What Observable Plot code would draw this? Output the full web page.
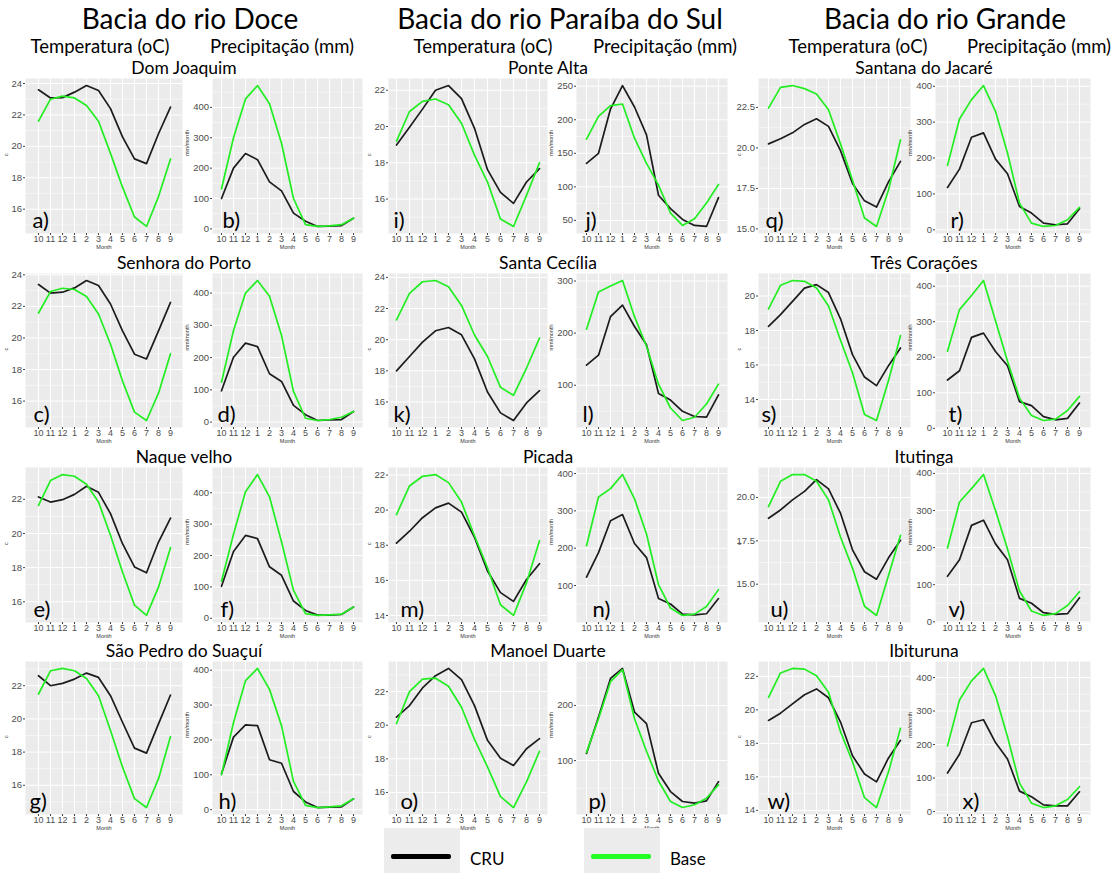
<!DOCTYPE html>
<html><head><meta charset="utf-8">
<script src="https://cdn.jsdelivr.net/npm/d3@7"></script>
<script src="https://cdn.jsdelivr.net/npm/@observablehq/plot@0.6"></script>
<style>
body{margin:0;background:#fff;}
#root{position:relative;width:1116px;height:873px;overflow:hidden;background:#fff;}
.t{position:absolute;white-space:nowrap;color:#000;font-family:Lato,"Open Sans",sans-serif;line-height:1;}
.panel{position:absolute;}
.panel svg{overflow:visible;background:transparent;}
.lbox{position:absolute;background:#ececec;}
.lline{position:absolute;height:5px;border-radius:2px;}
</style></head><body><div id="root"></div>
<script>
// ---------- categories / labels ----------
const months = ["10","11","12","1","2","3","4","5","6","7","8","9"];
const basins = ["Bacia do rio Doce","Bacia do rio Paraíba do Sul","Bacia do rio Grande"];
const subTemp = "Temperatura (oC)";
const subPrec = "Precipitação (mm)";
const stationsDoce = ["Dom Joaquim","Senhora do Porto","Naque velho","São Pedro do Suaçuí"];
const stationsParaiba = ["Ponte Alta","Santa Cecília","Picada","Manoel Duarte"];
const stationsGrande = ["Santana do Jacaré","Três Corações","Itutinga","Ibituruna"];
const panelLetters = ["a)","b)","c)","d)","e)","f)","g)","h)","i)","j)","k)","l)","m)","n)","o)","p)","q)","r)","s)","t)","u)","v)","w)","x)"];
const seriesNames = ["CRU","Base"];

// ---------- series values (month order 10..9) ----------
// Dom Joaquim
const tDomJoaquimCRU  = [23.6,23.08,23.1,23.45,23.87,23.55,22.4,20.6,19.2,18.9,20.8,22.5];
const tDomJoaquimBase = [21.6,23.0,23.2,23.08,22.6,21.6,19.55,17.4,15.5,14.9,16.8,19.2];
const pDomJoaquimCRU  = [100,200,248,228,155,125,52,25,8,9,11,35];
const pDomJoaquimBase = [132,300,428,472,412,282,100,14,8,10,14,35];
// Senhora do Porto
const tSenhoraCRU  = [23.39,22.84,22.9,23.17,23.64,23.32,22.15,20.45,18.97,18.67,20.45,22.25];
const tSenhoraBase = [21.58,22.94,23.15,23.07,22.62,21.52,19.6,17.27,15.3,14.77,16.5,19.0];
const pSenhoraCRU  = [97,201,245,234,150,126,52,23,5,7,8,33];
const pSenhoraBase = [124,284,400,439,390,269,95,12,5,8,15,33];
// Naque velho
const tNaqueCRU  = [22.14,21.84,21.98,22.29,22.76,22.41,21.16,19.4,18.04,17.7,19.5,20.9];
const tNaqueBase = [21.65,23.1,23.45,23.35,22.88,21.84,19.9,17.74,15.8,15.2,16.86,19.17];
const pNaqueCRU  = [102,213,264,254,164,137,55,25,10,10,12,36];
const pNaqueBase = [118,268,403,458,387,244,89,15,9,11,13,36];
// São Pedro do Suaçuí
const tSaoPedroCRU  = [22.6,22.0,22.14,22.4,22.76,22.5,21.4,19.8,18.24,17.94,19.7,21.44];
const tSaoPedroBase = [21.5,22.9,23.04,22.9,22.44,21.4,19.3,17.1,15.2,14.66,16.4,18.94];
const pSaoPedroCRU  = [103,208,243,241,143,133,52,22,6,7,8,31];
const pSaoPedroBase = [100,250,370,405,345,241,81,12,6,8,11,31];
// Ponte Alta
const tPonteAltaCRU  = [18.98,19.96,20.96,22.0,22.26,21.54,19.9,17.62,16.37,15.76,16.94,17.68];
const tPonteAltaBase = [19.2,20.83,21.39,21.52,21.2,20.18,18.42,16.94,14.9,14.49,16.2,18.0];
const pPonteAltaCRU  = [135,150,216,251,219,177.5,87.5,67.5,51.5,42.5,41,84];
const pPonteAltaBase = [171,205,221,223.5,172.5,135,102.5,61,42.5,52.5,76,103.5];
// Santa Cecília
const tSantaCeciliaCRU  = [18.0,18.92,19.84,20.57,20.78,20.31,18.77,16.64,15.3,14.81,15.94,16.73];
const tSantaCeciliaBase = [21.27,22.98,23.72,23.8,23.4,22.2,20.3,18.92,16.94,16.43,18.18,20.1];
const pSantaCeciliaCRU  = [138.6,157.6,231.6,253.8,212.7,177.8,84,71.5,50,40,38.6,81.6];
const pSantaCeciliaBase = [207.6,279,290.5,301,231.6,174.7,102,56.3,32.3,38.6,63.9,102];
// Picada
const tPicadaCRU  = [18.12,18.8,19.57,20.13,20.4,19.89,18.45,16.53,15.3,14.8,16.05,16.95];
const tPicadaBase = [19.75,21.38,21.93,22.03,21.57,20.46,18.54,16.72,14.61,14.0,15.86,18.26];
const pPicadaCRU  = [122.6,188,273.6,290,212.6,174.8,65,50.5,23.4,21.6,24.3,65];
const pPicadaBase = [206.6,337,359.5,397.3,332.4,238,102.7,39.6,19.8,23.4,44,89];
// Manoel Duarte
const tManoelCRU  = [20.48,21.17,22.22,22.95,23.38,22.71,21.17,19.1,18.04,17.6,18.6,19.2];
const tManoelBase = [20.1,22.0,22.75,22.8,22.32,21.07,19.16,17.52,15.75,15.1,16.63,18.45];
const pManoelCRU  = [113,179,249,267,188,167,77,44,26,23,27,62];
const pManoelBase = [115,176,243,265,176,117,63,26,15,20,32,56];
// Santana do Jacaré
const tSantanaCRU  = [20.25,20.56,20.93,21.45,21.8,21.33,19.83,17.8,16.73,16.35,17.9,19.17];
const tSantanaBase = [22.46,23.74,23.85,23.66,23.33,22.36,20.25,18.0,15.67,15.15,17.4,20.5];
const pSantanaCRU  = [118,169,258,270,197,156,65,46.5,18.6,14,16.7,58.6];
const pSantanaBase = [179.5,308.8,362.8,402,330,214,74.4,18.6,9.3,12,28,62.3];
// Três Corações
const tTresCoracoesCRU  = [18.24,18.92,19.69,20.46,20.66,20.2,18.68,16.6,15.3,14.8,15.96,16.99];
const tTresCoracoesBase = [19.26,20.62,20.9,20.85,20.46,19.42,17.43,15.55,13.13,12.78,15.1,17.7];
const pTresCoracoesCRU  = [136,162,256,268,216,176,75,64,33,24,28,71];
const pTresCoracoesBase = [217,334,374,416,303,189,85,36,22,26,50,90];
// Itutinga
const tItutingaCRU  = [18.8,19.28,19.86,20.35,21.03,20.49,19.09,16.98,15.72,15.29,16.52,17.53];
const tItutingaBase = [19.47,20.93,21.32,21.32,20.93,19.86,17.72,15.93,13.73,13.2,15.5,17.82];
const pItutingaCRU  = [122.6,167,260,273.8,210,167.4,63,50,24.4,20,21.7,65];
const pItutingaBase = [199,323,359,397,300,196,83,29,17,22,44,81];
// Ibituruna
const tIbiturunaCRU  = [19.37,19.8,20.36,20.9,21.25,20.72,19.27,17.26,16.17,15.7,17.13,18.18];
const tIbiturunaBase = [20.75,22.2,22.47,22.43,22.04,21.05,18.7,16.9,14.76,14.17,16.3,18.9];
const pIbiturunaCRU  = [115,171,265,274,206,157,61,44,20,17,17,59];
const pIbiturunaBase = [196,333,390,427,346,223,85,25,12,17,36,74];

// ---------- tick labels ----------
const ticksA = [16,18,20,22,24], ticksB = [0,100,200,300,400];
const ticksC = [16,18,20,22,24], ticksD = [0,100,200,300,400];
const ticksE = [16,18,20,22],    ticksF = [0,100,200,300,400];
const ticksG = [16,18,20,22],    ticksH = [0,100,200,300,400];
const ticksI = [16,18,20,22],    ticksJ = [50,100,150,200,250];
const ticksK = [16,18,20,22,24], ticksL = [100,200,300];
const ticksM = [14,16,18,20,22], ticksN = [100,200,300,400];
const ticksO = [16,18,20,22],    ticksP = [100,200];
const ticksQ = [15,17.5,20,22.5],ticksR = [0,100,200,300,400];
const ticksS = [14,16,18,20],    ticksT = [0,100,200,300,400];
const ticksU = [15,17.5,20],     ticksV = [0,100,200,300,400];
const ticksW = [14,16,18,20,22], ticksX = [0,100,200,300,400];

// ---------- assemble panels (basin -> rows -> [temp, precip]) ----------
const panelSeries = [
  [[tDomJoaquimCRU,tDomJoaquimBase,ticksA,pDomJoaquimCRU,pDomJoaquimBase,ticksB],
   [tSenhoraCRU,tSenhoraBase,ticksC,pSenhoraCRU,pSenhoraBase,ticksD],
   [tNaqueCRU,tNaqueBase,ticksE,pNaqueCRU,pNaqueBase,ticksF],
   [tSaoPedroCRU,tSaoPedroBase,ticksG,pSaoPedroCRU,pSaoPedroBase,ticksH]],
  [[tPonteAltaCRU,tPonteAltaBase,ticksI,pPonteAltaCRU,pPonteAltaBase,ticksJ],
   [tSantaCeciliaCRU,tSantaCeciliaBase,ticksK,pSantaCeciliaCRU,pSantaCeciliaBase,ticksL],
   [tPicadaCRU,tPicadaBase,ticksM,pPicadaCRU,pPicadaBase,ticksN],
   [tManoelCRU,tManoelBase,ticksO,pManoelCRU,pManoelBase,ticksP]],
  [[tSantanaCRU,tSantanaBase,ticksQ,pSantanaCRU,pSantanaBase,ticksR],
   [tTresCoracoesCRU,tTresCoracoesBase,ticksS,pTresCoracoesCRU,pTresCoracoesBase,ticksT],
   [tItutingaCRU,tItutingaBase,ticksU,pItutingaCRU,pItutingaBase,ticksV],
   [tIbiturunaCRU,tIbiturunaBase,ticksW,pIbiturunaCRU,pIbiturunaBase,ticksX]]
];
const stationNames = [stationsDoce, stationsParaiba, stationsGrande];

// ---------- layout (pixels) ----------
const tempLeft = [25, 388, 758], tempRight = [182, 547, 910];
const precLeft = [212, 576, 935], precRight = [362, 727, 1090];
const rowTop = [78, 273, 467, 661], rowBottom = [233, 427, 622, 814];
const groupCenter = [190, 560, 945];
const subTempCenter = [100, 483, 858];
const subPrecCenter = [282, 665, 1039];
const stationCenter = [184, 548, 924];
const stationY = [68, 263, 457, 651];
const letterDx = [[7,10],[8,5],[8,8],[4,6], [5,9],[5,6],[12,16],[12,12], [7,15],[3,13],[12,13],[9,27]];

const COL_CRU = "#1c1c1c", COL_BASE = "#22ee22";
const root = document.getElementById("root");

function addText(txt, cx, cy, size) {
  const d = document.createElement("div");
  d.className = "t";
  d.textContent = txt;
  d.style.fontSize = size + "px";
  d.style.left = cx + "px";
  d.style.top = cy + "px";
  d.style.transform = "translate(-50%,-50%)";
  root.appendChild(d);
  return d;
}

function drawPanel(left, right, top, bottom, cru, base, ticks, letter, ldx, ylab) {
  const mL = 30, mR = 2, mT = 2, mB = 22;
  const w = right - left, h = bottom - top;
  const all = cru.concat(base);
  const mn = d3.min(all), mx = d3.max(all), pad = (mx - mn) * 0.05;
  const domain = [mn - pad, mx + pad];
  const step = ticks[1] - ticks[0];
  let start = ticks[0] - step / 2;
  while (start - step > domain[0]) start -= step;
  const minor = d3.range(start, domain[1], step).filter(v => v >= domain[0] && v <= domain[1]);
  const fmt = ticks.some(t => t % 1) ? d3.format(".1f") : d3.format("d");
  const rows = months.map((m, i) => ({m, cru: cru[i], base: base[i]}));
  const svg = Plot.plot({
    width: w + mL + mR, height: h + mT + mB,
    marginLeft: mL, marginRight: mR, marginTop: mT, marginBottom: mB,
    style: {background: "transparent", overflow: "visible", fontFamily: "'Liberation Sans', Arial, sans-serif", color: "#4d4d4d"},
    x: {type: "point", domain: months, padding: 0.6},
    y: {domain},
    marks: [
      Plot.frame({fill: "#ebebeb", stroke: null}),
      Plot.ruleY(minor, {stroke: "#fff", strokeWidth: 0.5}),
      Plot.ruleY(ticks, {stroke: "#fff", strokeWidth: 1}),
      Plot.ruleX(months, {stroke: "#fff", strokeWidth: 1}),
      Plot.lineY(rows, {x: "m", y: "cru", stroke: COL_CRU, strokeWidth: 1.7}),
      Plot.lineY(rows, {x: "m", y: "base", stroke: COL_BASE, strokeWidth: 1.7}),
      Plot.axisX({tickSize: 2, tickPadding: 0, fontSize: 9, label: null, stroke: "#444"}),
      Plot.axisY({ticks, tickFormat: fmt, tickSize: 2, tickPadding: 1.5, fontSize: 9.5, label: null, stroke: "#444"}),
      Plot.text([letter], {text: d => d, frameAnchor: "bottom-left", dx: ldx, dy: -6, fontSize: 22, fill: "#000", textAnchor: "start", lineAnchor: "bottom", fontFamily: "Lato, 'Open Sans', sans-serif"}),
      Plot.text(["Month"], {text: d => d, frameAnchor: "bottom", dy: 15.5, fontSize: 5.5, fill: "#333"}),
      Plot.text([ylab], {text: d => d, frameAnchor: "left", dx: ylab === "c" ? -19 : -25, rotate: -90, fontSize: 5.5, fill: "#333"})
    ]
  });
  const div = document.createElement("div");
  div.className = "panel";
  div.style.left = (left - mL) + "px";
  div.style.top = (top - mT) + "px";
  div.style.width = (w + mL + mR) + "px";
  div.appendChild(svg);
  root.appendChild(div);
}

// headers
basins.forEach((b, g) => {
  addText(b, groupCenter[g], 18, 28);
  addText(subTemp, subTempCenter[g], 46, 18.5);
  addText(subPrec, subPrecCenter[g], 46, 18.5);
});

panelSeries.forEach((grp, g) => {
  grp.forEach((s, r) => {
    addText(stationNames[g][r], stationCenter[g], stationY[r], 17.5);
    const k = g * 4 + r;
    drawPanel(tempLeft[g], tempRight[g], rowTop[r], rowBottom[r], s[0], s[1], s[2], panelLetters[2*k], letterDx[k][0], "c");
    drawPanel(precLeft[g], precRight[g], rowTop[r], rowBottom[r], s[3], s[4], s[5], panelLetters[2*k+1], letterDx[k][1], "mm/month");
  });
});

// legend
function legendItem(x, color, label) {
  const box = document.createElement("div");
  box.className = "lbox";
  Object.assign(box.style, {left: x + "px", top: "828px", width: "76px", height: "45px"});
  root.appendChild(box);
  const ln = document.createElement("div");
  ln.className = "lline";
  Object.assign(ln.style, {left: (x + 7) + "px", top: "854px", width: "60px", background: color});
  root.appendChild(ln);
  const t = document.createElement("div");
  t.className = "t";
  t.textContent = label;
  Object.assign(t.style, {left: (x + 86) + "px", top: "850px", fontSize: "17px"});
  root.appendChild(t);
}
legendItem(384, "#000", seriesNames[0]);
legendItem(584, "#22ff22", seriesNames[1]);
</script></body></html>
